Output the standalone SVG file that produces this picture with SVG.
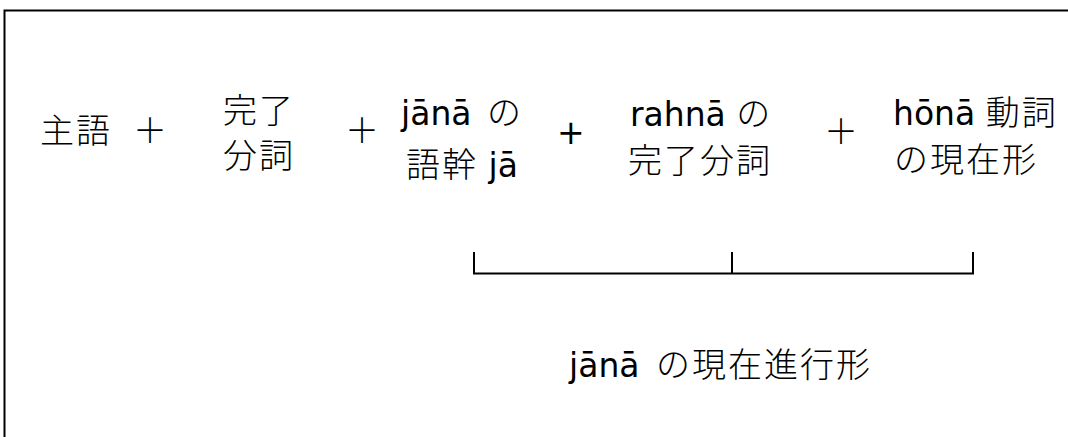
<svg xmlns="http://www.w3.org/2000/svg" width="1068" height="437" viewBox="0 0 1068 437">
<style>
.t{font-family:"DejaVu Sans","Noto Sans CJK JP",sans-serif;font-size:33px;fill:#000}
.j{font-family:"Noto Sans CJK JP",sans-serif;font-size:34px;font-weight:300;letter-spacing:2px}
.l{stroke:#000;stroke-width:2;fill:none}
</style>
<rect x="0" y="0" width="1068" height="437" fill="#fff"/>
<path class="l" d="M4.5,437 V10.5 H1068"/>
<g id="n1"><text class="t" x="40" y="143"><tspan class="j">主語</tspan></text></g>
<g id="p1"><text class="t" x="133" y="143"><tspan class="j">＋</tspan></text></g>
<g id="n2"><text class="t" x="223" y="123"><tspan class="j">完了</tspan></text><text class="t" x="223" y="168"><tspan class="j">分詞</tspan></text></g>
<g id="p2"><text class="t" x="345" y="143"><tspan class="j">＋</tspan></text></g>
<g id="n3"><text class="t" x="401" y="125">jānā <tspan class="j" dx="5">の</tspan></text><text class="t" x="406" y="177"><tspan class="j">語幹</tspan> jā</text></g>
<g id="p3"><text class="t" x="557" y="144">+</text></g>
<g id="n4"><text class="t" x="630" y="126">rahnā <tspan class="j">の</tspan></text><text class="t" x="628" y="173"><tspan class="j">完了分詞</tspan></text></g>
<g id="p4"><text class="t" x="824" y="144"><tspan class="j">＋</tspan></text></g>
<g id="n5"><text class="t" x="893" y="125">hōnā <tspan class="j">動詞</tspan></text><text class="t" x="894" y="172"><tspan class="j">の現在形</tspan></text></g>
<g id="connectors"><path class="l" d="M474,252 V273.5 H973 V252 M732,252 V273.5"/></g>
<g id="n6"><text class="t" x="569" y="377">jānā <tspan class="j" dx="6">の現在進行形</tspan></text></g>
</svg>
